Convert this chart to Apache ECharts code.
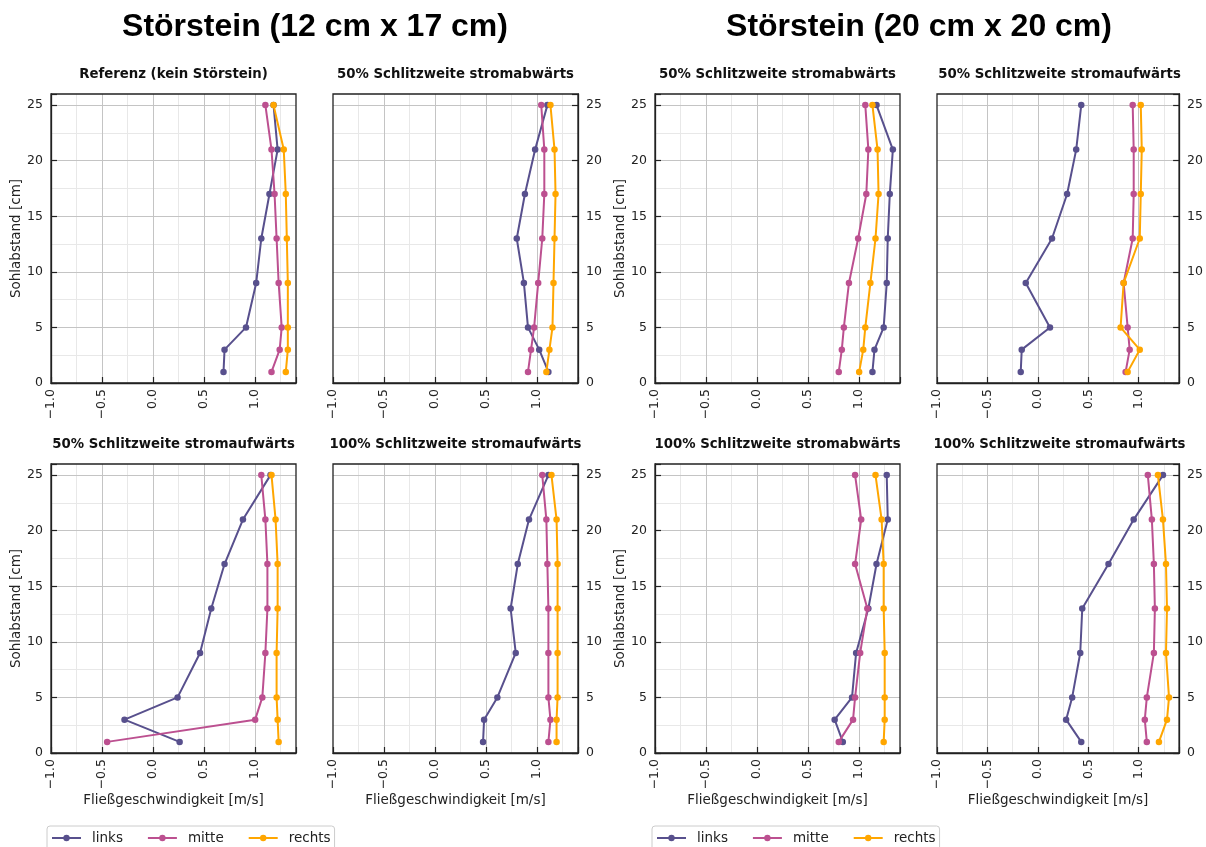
<!DOCTYPE html>
<html><head><meta charset="utf-8">
<script src="https://cdn.jsdelivr.net/npm/echarts@6/dist/echarts.min.js"></script>
<style>html,body{margin:0;padding:0;background:#fff}#c{width:1206px;height:847px}</style>
</head><body><div id="c"></div>
<script>
// ---------- data ----------
const hoehe = [1, 3, 5, 9, 13, 17, 21, 25];           // Sohlabstand [cm]
const xTicks = [-1.0, -0.5, 0.0, 0.5, 1.0];
const yTicks = [0, 5, 10, 15, 20, 25];
const seriesNames = ['links', 'mitte', 'rechts'];
const mainTitles = ['Störstein (12 cm x 17 cm)', 'Störstein (20 cm x 20 cm)'];
const panelTitles = [
  'Referenz (kein Störstein)', '50% Schlitzweite stromabwärts',
  '50% Schlitzweite stromabwärts', '50% Schlitzweite stromaufwärts',
  '50% Schlitzweite stromaufwärts', '100% Schlitzweite stromaufwärts',
  '100% Schlitzweite stromabwärts', '100% Schlitzweite stromaufwärts'
];

// Referenz (kein Störstein)
const p1_links  = [0.69, 0.70, 0.91, 1.01, 1.06, 1.14, 1.22, 1.18];
const p1_mitte  = [1.16, 1.24, 1.26, 1.23, 1.21, 1.19, 1.16, 1.10];
const p1_rechts = [1.30, 1.32, 1.32, 1.32, 1.31, 1.30, 1.28, 1.18];
// 12x17, 50% stromabwärts
const p2_links  = [1.11, 1.02, 0.91, 0.87, 0.80, 0.88, 0.98, 1.10];
const p2_mitte  = [0.91, 0.94, 0.97, 1.01, 1.05, 1.07, 1.07, 1.04];
const p2_rechts = [1.09, 1.12, 1.15, 1.16, 1.17, 1.18, 1.17, 1.13];
// 20x20, 50% stromabwärts
const p3_links  = [1.13, 1.15, 1.24, 1.27, 1.28, 1.30, 1.33, 1.17];
const p3_mitte  = [0.80, 0.83, 0.85, 0.90, 0.99, 1.07, 1.09, 1.06];
const p3_rechts = [1.00, 1.04, 1.06, 1.11, 1.16, 1.19, 1.18, 1.13];
// 20x20, 50% stromaufwärts
const p4_links  = [-0.17, -0.16, 0.12, -0.12, 0.14, 0.29, 0.38, 0.43];
const p4_mitte  = [0.87, 0.91, 0.89, 0.85, 0.94, 0.95, 0.95, 0.94];
const p4_rechts = [0.89, 1.01, 0.82, 0.85, 1.01, 1.02, 1.03, 1.02];
// 12x17, 50% stromaufwärts
const p5_links  = [0.26, -0.28, 0.24, 0.46, 0.57, 0.70, 0.88, 1.15];
const p5_mitte  = [-0.45, 1.00, 1.07, 1.10, 1.12, 1.12, 1.10, 1.06];
const p5_rechts = [1.23, 1.22, 1.21, 1.21, 1.22, 1.22, 1.20, 1.16];
// 12x17, 100% stromaufwärts
const p6_links  = [0.47, 0.48, 0.61, 0.79, 0.74, 0.81, 0.92, 1.11];
const p6_mitte  = [1.11, 1.13, 1.11, 1.11, 1.11, 1.10, 1.09, 1.05];
const p6_rechts = [1.19, 1.19, 1.20, 1.20, 1.20, 1.20, 1.19, 1.14];
// 20x20, 100% stromabwärts
const p7_links  = [0.84, 0.76, 0.93, 0.97, 1.09, 1.17, 1.28, 1.27];
const p7_mitte  = [0.80, 0.94, 0.96, 1.01, 1.08, 0.96, 1.02, 0.96];
const p7_rechts = [1.24, 1.25, 1.25, 1.25, 1.24, 1.24, 1.22, 1.16];
// 20x20, 100% stromaufwärts
const p8_links  = [0.43, 0.28, 0.34, 0.42, 0.44, 0.70, 0.95, 1.24];
const p8_mitte  = [1.08, 1.06, 1.08, 1.15, 1.16, 1.15, 1.13, 1.09];
const p8_rechts = [1.20, 1.28, 1.30, 1.27, 1.28, 1.27, 1.24, 1.19];

const panels = [
  [p1_links, p1_mitte, p1_rechts], [p2_links, p2_mitte, p2_rechts],
  [p3_links, p3_mitte, p3_rechts], [p4_links, p4_mitte, p4_rechts],
  [p5_links, p5_mitte, p5_rechts], [p6_links, p6_mitte, p6_rechts],
  [p7_links, p7_mitte, p7_rechts], [p8_links, p8_mitte, p8_rechts]
];

// ---------- layout / style ----------
const colors = ['#58508d', '#bc5090', '#ffa600'];
const FONT = 'DejaVu Sans';
const lefts = [51, 333, 655, 937];
const tops = [94, 464];
const W = 245, H = 289;
const XMIN = -1.0, XMAX = 1.4, YMIN = 0, YMAX = 26;

const fmtX = v => xTicks.some(t => Math.abs(t - v) < 1e-6) ? v.toFixed(1).replace('-', '\u2212') : '';
const fmtY = v => yTicks.some(t => Math.abs(t - v) < 1e-6) ? String(v) : '';

const grid = [], xAxis = [], yAxis = [], series = [], title = [];

mainTitles.forEach((t, i) => {
  title.push({
    text: t, left: i === 0 ? 315 : 919, top: 11, padding: 0, textAlign: 'center',
    textStyle: { fontFamily: 'Liberation Sans', fontWeight: 'bold', fontSize: 32, color: '#000' }
  });
});

panels.forEach((p, k) => {
  const row = Math.floor(k / 4), col = k % 4;
  const left = lefts[col], top = tops[row];
  const rightSide = (col === 1 || col === 3);
  grid.push({ left: left, top: top, width: W, height: H, show: true,
    borderColor: '#222', borderWidth: 1.3, backgroundColor: 'transparent', z: 10 });
  title.push({
    text: panelTitles[k], left: left + W / 2, top: top - 26, padding: 0, textAlign: 'center',
    textStyle: { fontFamily: FONT, fontWeight: 'bold', fontSize: 13.3, color: '#111' }
  });
  // main x axis
  xAxis.push({
    type: 'value', gridIndex: k, min: XMIN, max: XMAX, interval: 0.5, z: 2,
    position: 'bottom',
    axisLine: { show: true, onZero: false, lineStyle: { color: '#222', width: 1.3 } },
    axisTick: { show: true, inside: true, length: 6, lineStyle: { color: '#222', width: 1.2 } },
    axisLabel: { show: true, rotate: 90, margin: 6, formatter: fmtX,
      fontFamily: FONT, fontSize: 12.5, color: '#222' },
    splitLine: { show: true, showMinLine: false, showMaxLine: false, lineStyle: { color: '#c4c4c4', width: 1 } },
    name: row === 1 ? 'Fließgeschwindigkeit [m/s]' : '', nameLocation: 'middle', nameGap: 40,
    nameTextStyle: { fontFamily: FONT, fontSize: 13.5, color: '#222' }
  });
  // minor x grid axis
  xAxis.push({
    type: 'value', gridIndex: k, min: XMIN, max: XMAX, interval: 0.25, z: 0, position: 'bottom',
    axisLine: { show: false }, axisTick: { show: false }, axisLabel: { show: false },
    splitLine: { show: true, showMinLine: false, showMaxLine: false, lineStyle: { color: '#e8e8e8', width: 1 } }
  });
  // main y axis
  yAxis.push({
    type: 'value', gridIndex: k, min: YMIN, max: YMAX, interval: 5, z: 2,
    position: rightSide ? 'right' : 'left',
    axisLine: { show: true, onZero: false, lineStyle: { color: '#222', width: 1.3 } },
    axisTick: { show: true, inside: true, length: 6, lineStyle: { color: '#222', width: 1.2 } },
    axisLabel: { show: true, margin: 8, formatter: fmtY, fontFamily: FONT, fontSize: 12.5, color: '#222' },
    splitLine: { show: true, showMinLine: false, showMaxLine: false, lineStyle: { color: '#c4c4c4', width: 1 } },
    name: rightSide ? '' : 'Sohlabstand [cm]', nameLocation: 'middle', nameGap: 27,
    nameTextStyle: { fontFamily: FONT, fontSize: 13.5, color: '#222' }
  });
  // minor y grid axis
  yAxis.push({
    type: 'value', gridIndex: k, min: YMIN, max: YMAX, interval: 2.5, z: 0,
    position: rightSide ? 'right' : 'left',
    axisLine: { show: false }, axisTick: { show: false }, axisLabel: { show: false },
    splitLine: { show: true, showMinLine: false, showMaxLine: false, lineStyle: { color: '#e8e8e8', width: 1 } }
  });
  p.forEach((vals, s) => {
    series.push({
      type: 'line', name: seriesNames[s], xAxisIndex: 2 * k, yAxisIndex: 2 * k,
      data: hoehe.map((h, i) => [vals[i], h]),
      symbol: 'circle', symbolSize: 6.5, showSymbol: true,
      lineStyle: { color: colors[s], width: 2 }, itemStyle: { color: colors[s] },
      z: 3 + s, animation: false
    });
  });
});

const legend = [47, 652].map(l => ({
  data: seriesNames, left: l, top: 826, orient: 'horizontal',
  padding: [5, 4, 5, 4], itemWidth: 29, itemHeight: 8, itemGap: 24,
  borderColor: '#cccccc', borderWidth: 1, borderRadius: 3, backgroundColor: '#fff',
  textStyle: { fontFamily: FONT, fontSize: 13.5, color: '#222', padding: [0, 0, 0, 6] }
}));

const chart = echarts.init(document.getElementById('c'), null, { renderer: 'canvas' });
chart.setOption({
  animation: false, backgroundColor: '#ffffff', color: colors,
  title, grid, xAxis, yAxis, series, legend
});
</script></body></html>
